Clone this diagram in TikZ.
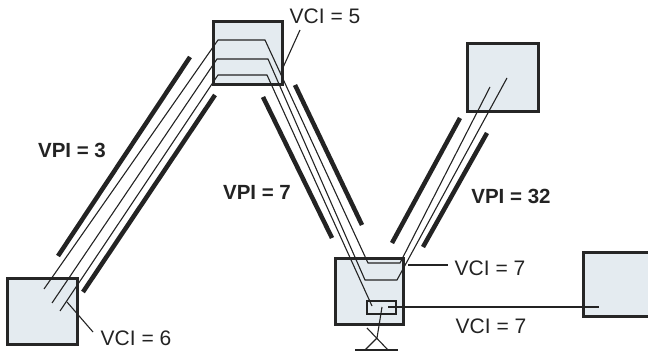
\documentclass[tikz,border=0pt]{standalone}
\usepackage{fontspec}
\setmainfont{Liberation Sans}
\definecolor{boxfill}{RGB}{228,235,240}
\definecolor{boxline}{RGB}{38,38,38}
\definecolor{inkcol}{RGB}{35,35,35}
\begin{document}
\begin{tikzpicture}[x=1pt,y=-1pt,
  box/.style={draw=boxline, line width=3pt, fill=boxfill, inner sep=0pt, outer sep=0pt},
  portbox/.style={draw=inkcol, line width=1.1pt, inner sep=0pt, outer sep=0pt, minimum width=29pt, minimum height=13pt},
  bar/.style={line width=4.5pt, draw=inkcol},
  wire/.style={line width=1.1pt, draw=inkcol, line join=miter},
  lbl/.style={font=\fontsize{21}{25}\selectfont, inner sep=0pt, text=inkcol},
  blbl/.style={font=\fontsize{20.5}{25}\selectfont\bfseries, inner sep=0pt, text=inkcol}]
\useasboundingbox (0,0) rectangle (648,355);
\clip (0,0) rectangle (648,355);

% switches / end systems
\node[box, minimum width=70pt, minimum height=66pt] (A) at (42,312) {};
\node[box, minimum width=69pt, minimum height=63pt] (B) at (247.5,53.5) {};
\node[box, minimum width=68pt, minimum height=66pt] (C) at (369,292) {};
\node[box, minimum width=71pt, minimum height=68pt] (D) at (502.5,78) {};
\node[box, minimum width=80pt, minimum height=64pt] (E) at (623,285) {};
\node[portbox] (S) at (381.5,307.5) {};

% virtual path bars
\draw[bar] (190,57) -- (58,256);
\draw[bar] (215,95) -- (83,292);
\draw[bar] (263,97) -- (332,238);
\draw[bar] (295,85) -- (362,225);
\draw[bar] (460,118) -- (392,243);
\draw[bar] (487,133) -- (423,247);

% virtual channel wires
\coordinate (a1) at (44,289);  \coordinate (a2) at (52,303);  \coordinate (a3) at (60,311);
\coordinate (d1) at (490,87);  \coordinate (d2) at (507,78);
\coordinate (s3) at (372,306); \coordinate (s4) at (388,307);
\coordinate (e1) at (599,307);
\draw[wire] (a1) -- (218,40) -- (265,40) -- (368,263) -- (400,263) -- (d1);
\draw[wire] (a2) -- (217,59) -- (268,59) -- (365,280) -- (397,280) -- (d2);
\draw[wire] (a3) -- (218,75) -- (267,75) -- (s3);
\draw[wire] (s4) -- (e1);

% output port symbol
\coordinate (x0) at (382,307);
\coordinate (xc) at (377,338);
\coordinate (x1) at (365,350);
\coordinate (x2) at (367,328);
\coordinate (x3) at (388,350);
\coordinate (x4) at (355,350);
\coordinate (x5) at (398,350);
\draw[wire] (x0) -- (xc) -- (x1);
\draw[wire] (x2) -- (x3);
\draw[wire] (x4) -- (x5);

% labels
\node[lbl] (vci5) at (325,16) {VCI = 5};
\node[lbl] (vci6) at (136,338) {VCI = 6};
\node[lbl] (vci7a) at (490,268) {VCI = 7};
\node[lbl] (vci7b) at (491,326) {VCI = 7};
\node[blbl] (vpi3) at (72,150) {VPI = 3};
\node[blbl] (vpi7) at (257,192) {VPI = 7};
\node[blbl] (vpi32) at (511,196) {VPI = 32};

% leaders
\coordinate (l5a) at (300,30);  \coordinate (l5b) at (281,72);
\coordinate (l6a) at (67,302);  \coordinate (l6b) at (93,332);
\coordinate (l7a) at (408,265); \coordinate (l7b) at (448,265);
\draw[wire] (l5a) -- (l5b);
\draw[wire] (l6a) -- (l6b);
\draw[wire] (l7a) -- (l7b);
\end{tikzpicture}
\end{document}
